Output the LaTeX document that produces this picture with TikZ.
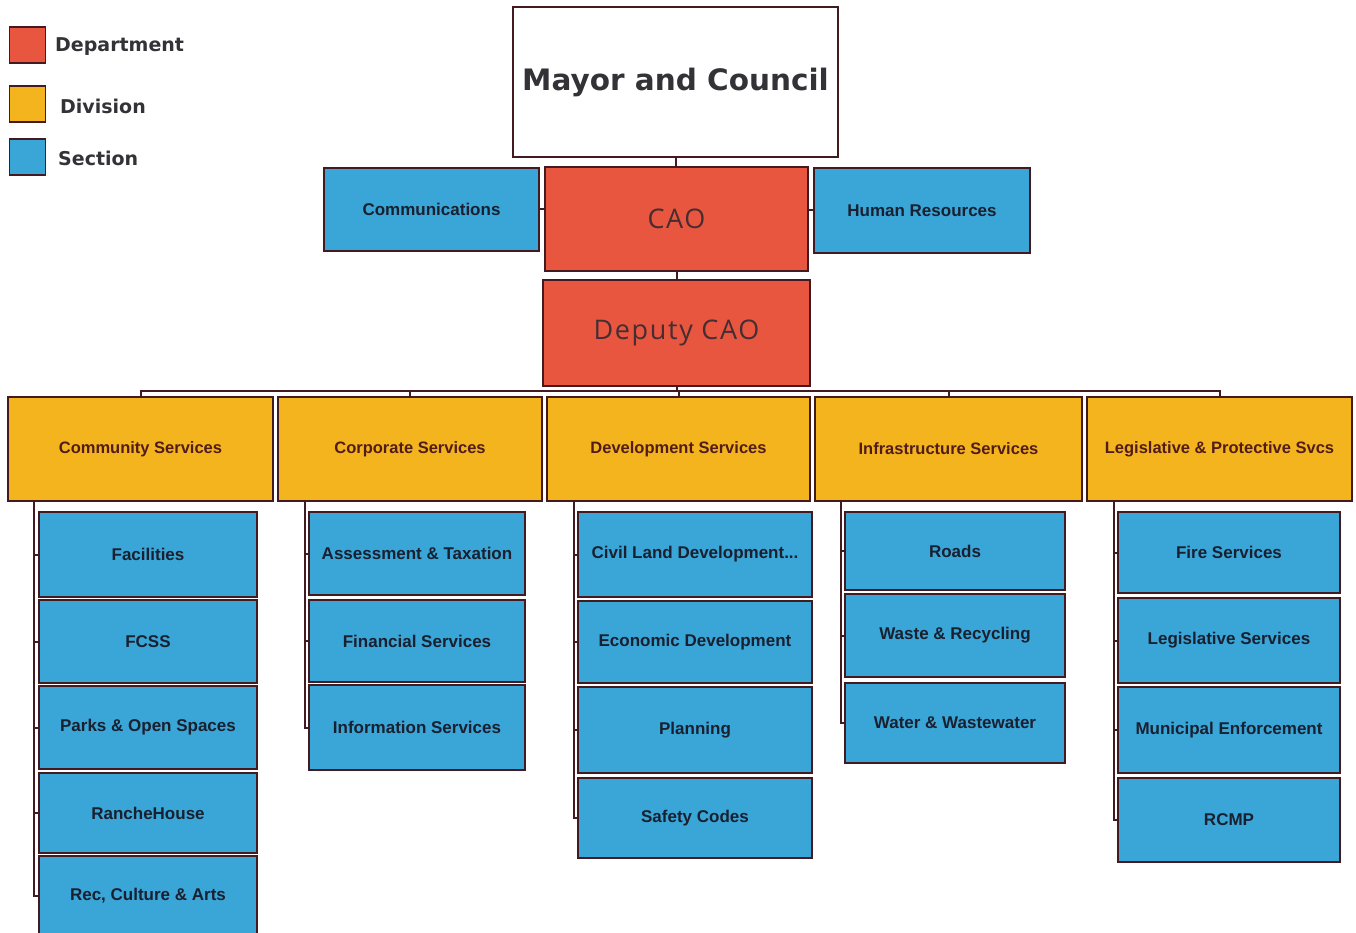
\documentclass[tikz,border=0pt]{standalone}
\usepackage{fontspec}
\setmainfont{Liberation Sans}
\newfontfamily\legfont{DejaVu Sans}
\newfontfamily\caofont[LetterSpace=6]{Open Sans}
\definecolor{deptred}{RGB}{232,86,64}
\definecolor{divyel}{RGB}{244,180,30}
\definecolor{secblue}{RGB}{58,165,215}
\definecolor{edge}{RGB}{66,26,32}
\definecolor{divtext}{RGB}{80,28,28}
\definecolor{sectext}{RGB}{25,32,48}
\definecolor{greytext}{RGB}{50,50,55}
\newcommand\obox[7]{\node[#6, minimum width={(#4-#2)*1pt}, minimum height={(#5-#3)*1pt}] (#1) at ({(#2+#4)/2},{(#3+#5)/2}) {#7};}
\tikzset{
  basebox/.style={draw=edge, line width=2.8pt, inner sep=0pt, rectangle},
  topbox/.style={basebox, fill=white, text=greytext, font=\legfont\bfseries\fontsize{29.5}{32}\selectfont},
  deptbox/.style={basebox, fill=deptred, text=greytext!90!red, font=\caofont\fontsize{27}{30}\selectfont},
  divbox/.style={basebox, fill=divyel, text=divtext, font=\bfseries\fontsize{16.5}{19}\selectfont},
  secbox/.style={basebox, fill=secblue, text=sectext, font=\bfseries\fontsize{17}{19}\selectfont},
  legbox/.style={draw=edge, line width=1.6pt, inner sep=0pt, minimum width=36pt, minimum height=36pt},
  legtext/.style={anchor=west, inner sep=0pt, text=greytext, font=\legfont\bfseries\fontsize{19}{22}\selectfont},
  conn/.style={draw=edge, line width=2pt}
}
\begin{document}
\begin{tikzpicture}[x=1pt,y=-1pt]
\useasboundingbox (0,0) rectangle (1356,933);
% legend
\node[legbox, fill=deptred] (lgd) at (27.5,45) {};
\node[legbox, fill=divyel] (lgv) at (27.5,104) {};
\node[legbox, fill=secblue] (lgs) at (27.5,157) {};
\node[legtext] (lgdt) at (55,47) {Department};
\node[legtext] (lgvt) at (60,106) {Division};
\node[legtext] (lgst) at (58,158) {Section};
% top
\obox{mayor}{513}{7}{838}{157}{topbox}{Mayor and Council}
\obox{comm}{324}{168}{539}{251}{secbox}{Communications}
\obox{cao}{545}{167}{808}{271}{deptbox}{CAO}
\obox{hr}{814}{168}{1030}{253}{secbox}{Human Resources}
\obox{dcao}{543}{280}{810}{386}{deptbox}{Deputy CAO}
% divisions
\obox{cs}{8}{397}{273}{501}{divbox}{Community Services}
\obox{cor}{278}{397}{542}{501}{divbox}{Corporate Services}
\obox{dev}{547}{397}{810}{501}{divbox}{Development Services}
\obox{inf}{815}{397}{1082}{501}{divbox}{Infrastructure Services}
\obox{lp}{1087}{397}{1352}{501}{divbox}{Legislative \& Protective Svcs}
% community sections
\obox{fac}{39}{512}{257}{597}{secbox}{Facilities}
\obox{fcss}{39}{600}{257}{683}{secbox}{FCSS}
\obox{parks}{39}{686}{257}{769}{secbox}{Parks \& Open Spaces}
\obox{ranch}{39}{773}{257}{853}{secbox}{RancheHouse}
\obox{rec}{39}{856}{257}{936}{secbox}{Rec, Culture \& Arts}
% corporate sections
\obox{ass}{309}{512}{525}{595}{secbox}{Assessment \& Taxation}
\obox{fin}{309}{600}{525}{682}{secbox}{Financial Services}
\obox{info}{309}{685}{525}{770}{secbox}{Information Services}
% development sections
\obox{civil}{578}{512}{812}{597}{secbox}{Civil Land Development...}
\obox{econ}{578}{601}{812}{683}{secbox}{Economic Development}
\obox{plan}{578}{687}{812}{773}{secbox}{Planning}
\obox{safe}{578}{778}{812}{858}{secbox}{Safety Codes}
% infrastructure sections
\obox{roads}{845}{512}{1065}{590}{secbox}{Roads}
\obox{waste}{845}{594}{1065}{677}{secbox}{Waste \& Recycling}
\obox{water}{845}{683}{1065}{763}{secbox}{Water \& Wastewater}
% legislative sections
\obox{fire}{1118}{512}{1340}{593}{secbox}{Fire Services}
\obox{legs}{1118}{598}{1340}{683}{secbox}{Legislative Services}
\obox{muni}{1118}{687}{1340}{773}{secbox}{Municipal Enforcement}
\obox{rcmp}{1118}{778}{1340}{862}{secbox}{RCMP}
% top connectors
\draw[conn] (mayor.south) -- (mayor.south |- cao.north);
\draw[conn] (comm.east) -- (comm.east -| cao.west);
\draw[conn] (hr.west) -- (hr.west -| cao.east);
\draw[conn] (cao.south) -- (dcao.north);
\coordinate (busy) at (0,391);
\draw[conn] (dcao.south) -- (dcao.south |- busy);
\draw[conn] (cs.north) -- (cs.north |- busy) -- (lp.north |- busy) -- (lp.north);
\draw[conn] (cor.north) -- (cor.north |- busy);
\draw[conn] (dev.north) -- (dev.north |- busy);
\draw[conn] (inf.north) -- (inf.north |- busy);
% section connectors
\coordinate (csx) at (34,0);
\coordinate (corx) at (305,0);
\coordinate (devx) at (574,0);
\coordinate (infx) at (841,0);
\coordinate (lpx) at (1114,0);
\draw[conn] (csx |- cs.south) |- (rec.west);
\foreach \s in {fac,fcss,parks,ranch} \draw[conn] (csx |- \s.west) -- (\s.west);
\draw[conn] (corx |- cor.south) |- (info.west);
\foreach \s in {ass,fin} \draw[conn] (corx |- \s.west) -- (\s.west);
\draw[conn] (devx |- dev.south) |- (safe.west);
\foreach \s in {civil,econ,plan} \draw[conn] (devx |- \s.west) -- (\s.west);
\draw[conn] (infx |- inf.south) |- (water.west);
\foreach \s in {roads,waste} \draw[conn] (infx |- \s.west) -- (\s.west);
\draw[conn] (lpx |- lp.south) |- (rcmp.west);
\foreach \s in {fire,legs,muni} \draw[conn] (lpx |- \s.west) -- (\s.west);
\end{tikzpicture}
\end{document}
